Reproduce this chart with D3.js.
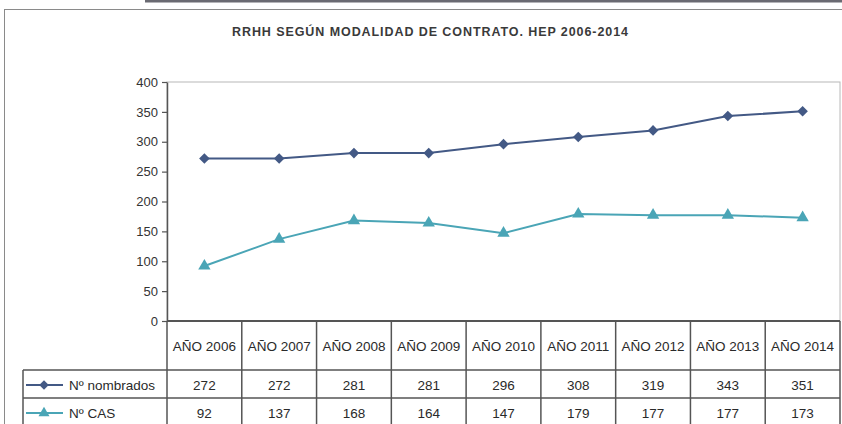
<!DOCTYPE html>
<html>
<head>
<meta charset="utf-8">
<script src="https://cdn.jsdelivr.net/npm/d3@7"></script>
<style>
  body { margin: 0; background: #fff; }
  svg { display: block; font-family: "Liberation Sans", Arial, sans-serif; }
</style>
</head>
<body>
<script>
//// Data ////
const TITLE = "RRHH SEGÚN MODALIDAD DE CONTRATO. HEP 2006-2014"
const YEARS = ["AÑO 2006", "AÑO 2007", "AÑO 2008", "AÑO 2009", "AÑO 2010",
  "AÑO 2011", "AÑO 2012", "AÑO 2013", "AÑO 2014"]
const NOMBRADOS = [272, 272, 281, 281, 296, 308, 319, 343, 351]
const CAS = [92, 137, 168, 164, 147, 179, 177, 177, 173]
const Y_TICKS = [0, 50, 100, 150, 200, 250, 300, 350, 400]

//// Layout ////
const WIDTH = 842
const HEIGHT = 424
const PLOT_LEFT = 167
const PLOT_RIGHT = 840
const PLOT_TOP = 82
const PLOT_BOTTOM = 321
const HEADER_BOTTOM = 370
const ROW_H = 28
const LEGEND_LEFT = 23
const BORDER = "#555"

const series = [
  { name: "Nº nombrados", values: NOMBRADOS, color: "#435985", shape: d3.symbolSquare, size: 56, rot: 45 },
  { name: "Nº CAS", values: CAS, color: "#4aa5b6", shape: d3.symbolTriangle, size: 66, rot: 0 }
]

const svg = d3.select("body").append("svg")
  .attr("width", WIDTH)
  .attr("height", HEIGHT)

// stray border from the scan above the chart box, and the chart box
svg.append("line").attr("x1", 145).attr("x2", WIDTH).attr("y1", 1).attr("y2", 1)
  .attr("stroke", "#6a6a72").attr("stroke-width", 3)
svg.append("rect").attr("x", 4.5).attr("y", 9.5).attr("width", 850).attr("height", 430)
  .attr("fill", "none").attr("stroke", "#8a8a8a").attr("stroke-width", 1)

svg.append("text")
  .attr("x", 430).attr("y", 36)
  .attr("text-anchor", "middle")
  .attr("font-size", 12.5).attr("font-weight", "bold")
  .attr("textLength", 396).attr("lengthAdjust", "spacing")
  .attr("fill", "#3a3a3a")
  .text(TITLE)

const x = d3.scaleBand().domain(YEARS).range([PLOT_LEFT, PLOT_RIGHT])
const y = d3.scaleLinear().domain([0, 400]).range([PLOT_BOTTOM, PLOT_TOP])

// plot area border
svg.append("rect")
  .attr("x", PLOT_LEFT).attr("y", PLOT_TOP)
  .attr("width", PLOT_RIGHT - PLOT_LEFT).attr("height", PLOT_BOTTOM - PLOT_TOP)
  .attr("fill", "none").attr("stroke", "#b8b8b8").attr("stroke-width", 1)

const yAxis = svg.append("g")
  .attr("transform", `translate(${PLOT_LEFT},0)`)
  .call(d3.axisLeft(y).tickValues(Y_TICKS).tickSize(5).tickSizeOuter(0).tickPadding(4))
yAxis.select(".domain").attr("stroke", BORDER).attr("stroke-width", 1.5)
yAxis.selectAll(".tick line").attr("stroke", BORDER).attr("stroke-width", 1.2)
yAxis.selectAll(".tick text").attr("font-size", 13).attr("fill", "#333")
  .attr("font-family", "Liberation Sans, Arial, sans-serif")

//// Data table ////
const table = svg.append("g")
const tableBottom = HEADER_BOTTOM + ROW_H * 2

// horizontal lines
table.append("line").attr("x1", PLOT_LEFT).attr("x2", PLOT_RIGHT)
  .attr("y1", PLOT_BOTTOM).attr("y2", PLOT_BOTTOM)
  .attr("stroke", BORDER).attr("stroke-width", 2)
table.selectAll(".hline").data([HEADER_BOTTOM, HEADER_BOTTOM + ROW_H, tableBottom])
  .join("line")
  .attr("x1", LEGEND_LEFT).attr("x2", PLOT_RIGHT)
  .attr("y1", d => d).attr("y2", d => d)
  .attr("stroke", BORDER).attr("stroke-width", 1.5)

// vertical lines
const colEdges = YEARS.map(d => x(d)).concat([PLOT_RIGHT])
table.selectAll(".vline").data(colEdges).join("line")
  .attr("x1", d => d).attr("x2", d => d)
  .attr("y1", PLOT_BOTTOM).attr("y2", tableBottom)
  .attr("stroke", BORDER).attr("stroke-width", 1.5)
table.append("line").attr("x1", LEGEND_LEFT).attr("x2", LEGEND_LEFT)
  .attr("y1", HEADER_BOTTOM).attr("y2", tableBottom)
  .attr("stroke", BORDER).attr("stroke-width", 1.5)

// header labels
table.selectAll(".hdr").data(YEARS).join("text")
  .attr("x", d => x(d) + x.bandwidth() / 2)
  .attr("y", 351)
  .attr("text-anchor", "middle")
  .attr("font-size", 13.5).attr("fill", "#2a2a2a")
  .text(d => d)

// rows
series.forEach((s, i) => {
  const rowY = HEADER_BOTTOM + ROW_H * i + ROW_H / 2 + 6
  table.selectAll(".val" + i).data(s.values).join("text")
    .attr("x", (d, j) => x(YEARS[j]) + x.bandwidth() / 2)
    .attr("y", rowY)
    .attr("text-anchor", "middle")
    .attr("font-size", 13.5).attr("fill", "#2a2a2a")
    .text(d => d)

  const keyY = rowY - 5
  table.append("line").attr("x1", 26).attr("x2", 63)
    .attr("y1", keyY).attr("y2", keyY)
    .attr("stroke", s.color).attr("stroke-width", 2)
  table.append("path")
    .attr("d", d3.symbol(s.shape, s.size * 0.8)())
    .attr("transform", `translate(44,${keyY}) rotate(${s.rot})`)
    .attr("fill", s.color)
  table.append("text")
    .attr("x", 69).attr("y", rowY)
    .attr("font-size", 13.5).attr("fill", "#2a2a2a")
    .text(s.name)
})

//// Lines and markers ////
const line = d3.line()
  .x((d, j) => x(YEARS[j]) + x.bandwidth() / 2)
  .y(d => y(d))

series.forEach(s => {
  svg.append("path")
    .datum(s.values)
    .attr("d", line)
    .attr("fill", "none")
    .attr("stroke", s.color)
    .attr("stroke-width", 2)
  svg.selectAll(null).data(s.values).join("path")
    .attr("d", d3.symbol(s.shape, s.size)())
    .attr("transform", (d, j) => `translate(${x(YEARS[j]) + x.bandwidth() / 2},${y(d)}) rotate(${s.rot})`)
    .attr("fill", s.color)
})
</script>
</body>
</html>
